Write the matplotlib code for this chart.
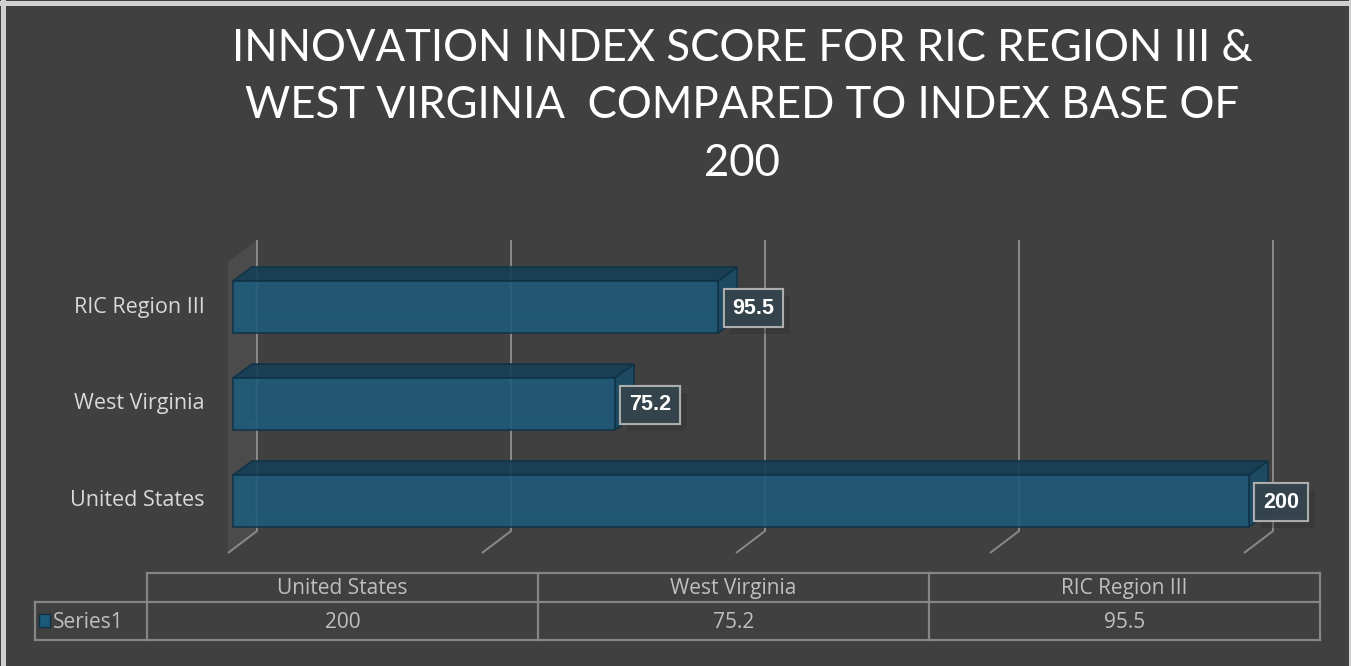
import numpy as np
import matplotlib.pyplot as plt
from matplotlib.patches import Polygon, Rectangle
import matplotlib.patheffects as pe

# data
categories = ['United States', 'West Virginia', 'RIC Region III']
values = [200, 75.2, 95.5]
series_name = 'Series1'
grid_ticks = [0, 50, 100, 150, 200]
title = 'INNOVATION INDEX SCORE FOR RIC REGION III &\nWEST VIRGINIA  COMPARED TO INDEX BASE OF\n200'

W, H = 1351, 666
BG = '#404040'
TXT = '#d9d9d9'
GRID = '#8a8a8a'
FRONT = '#1d5b7a'
TOP = '#173f55'
SIDE = '#1a4a64'
EDGE = '#0f3247'
LABEL_FONT = ['Open Sans', 'DejaVu Sans']

plt.rcParams['font.family'] = ['Lato', 'DejaVu Sans']

fig = plt.figure(figsize=(W / 100, H / 100), dpi=100)
fig.patch.set_facecolor(BG)

# axes covering whole figure; x=0 at px 233, x=200 at px 1249; y=0 (first bar) at px 501
px_x = (1249 - 233) / 200.0
px_y = 97.0
ax = fig.add_axes([0, 0, 1, 1])
ax.set_xlim(-233 / px_x, (W - 233) / px_x)
ax.set_ylim(-(H - 501) / px_y, 501 / px_y)
ax.axis('off')
ax.patch.set_alpha(0)

# 3d geometry
bar_h = 0.268
bdx, bdy = 19 / px_x, 14 / px_y
gback = 24 / px_x
gfront = 5 / px_x
floor_back = -30 / px_y
floor_front = -52 / px_y
grid_top = (501 - 240) / px_y
wall_dy = floor_front - floor_back

# left wall
wall = Polygon([(-gfront, floor_front), (gback, floor_back), (gback, grid_top),
                (-gfront, grid_top + wall_dy)], closed=True,
               facecolor='#4b4b4b', edgecolor='none', zorder=1)
ax.add_patch(wall)

# gridlines
for v in grid_ticks:
    ax.plot([v + gback, v + gback, v - gfront], [grid_top, floor_back, floor_front],
            color=GRID, lw=1.4, zorder=2, solid_capstyle='butt')

# bars
for i, v in enumerate(values):
    c = i
    y0, y1 = c - bar_h, c + bar_h
    # hidden edges
    ax.plot([bdx, v + bdx], [y0 + bdy, y0 + bdy], color=EDGE, lw=0.8, alpha=0.5, zorder=3)
    ax.plot([bdx, bdx], [y0 + bdy, y1 + bdy], color=EDGE, lw=0.8, alpha=0.5, zorder=3)
    ax.plot([0, bdx], [y0, y0 + bdy], color=EDGE, lw=0.8, alpha=0.5, zorder=3)
    top = Polygon([(0, y1), (v, y1), (v + bdx, y1 + bdy), (bdx, y1 + bdy)], closed=True,
                  facecolor=TOP, edgecolor=EDGE, lw=1.2, alpha=0.92, zorder=4)
    side = Polygon([(v, y0), (v + bdx, y0 + bdy), (v + bdx, y1 + bdy), (v, y1)], closed=True,
                   facecolor=SIDE, edgecolor=EDGE, lw=1.2, alpha=0.92, zorder=4)
    front = Rectangle((0, y0), v, 2 * bar_h, facecolor=FRONT, edgecolor=EDGE, lw=1.2,
                      alpha=0.88, zorder=5)
    ax.add_patch(top)
    ax.add_patch(side)
    ax.add_patch(front)
    t = ax.annotate(f'{v:g}', (v, c), xytext=(14, -1), textcoords='offset pixels',
                    ha='left', va='center', color='white', fontsize=15.5, fontweight='bold',
                    family=['Liberation Sans', 'DejaVu Sans'], zorder=7,
                    bbox=dict(boxstyle='square,pad=0.4', facecolor='#34444d',
                              edgecolor='#b0b0b0', lw=1.5, alpha=0.95))
    t.get_bbox_patch().set_path_effects([pe.withSimplePatchShadow(offset=(5, -5), shadow_rgbFace='#2c2c2c', alpha=0.35),
                                         pe.Normal()])
    ax.text(-28 / px_x, c, categories[i], ha='right', va='center', color=TXT, fontsize=15.5,
            family=LABEL_FONT)

# title
fig.text(742 / W, 1 - 106 / H, title, ha='center', va='center', color='white',
         fontsize=31.5, linespacing=1.5)

# data table
tx0, tx1, ty0, ty1 = 35, 1320, 573, 640
tax = fig.add_axes([tx0 / W, 1 - ty1 / H, (tx1 - tx0) / W, (ty1 - ty0) / H])
tax.set_xlim(0, tx1 - tx0)
tax.set_ylim(ty1 - ty0, 0)
tax.axis('off')
tax.patch.set_alpha(0)
lab_w = 112
col_w = (tx1 - tx0 - lab_w) / len(categories)
hdr_h = 29
tot_h = ty1 - ty0
lc = dict(color='#858585', lw=1.6, clip_on=False)
tax.plot([lab_w, tx1 - tx0], [0, 0], **lc)
tax.plot([0, tx1 - tx0], [hdr_h, hdr_h], **lc)
tax.plot([0, tx1 - tx0], [tot_h, tot_h], **lc)
tax.plot([0, 0], [hdr_h, tot_h], **lc)
for k in range(len(categories) + 1):
    xk = lab_w + k * col_w
    tax.plot([xk, xk], [0, tot_h], **lc)
for k, (cat, v) in enumerate(zip(categories, values)):
    xc = lab_w + (k + 0.5) * col_w
    tax.text(xc, hdr_h / 2 + 1, cat, ha='center', va='center', color='#bfbfbf', fontsize=15,
             family=LABEL_FONT)
    tax.text(xc, (hdr_h + tot_h) / 2 + 1, f'{v:g}', ha='center', va='center', color='#bfbfbf',
             fontsize=15, family=LABEL_FONT)
tax.add_patch(Rectangle((4, hdr_h + 12), 11, 13, facecolor=FRONT, edgecolor=EDGE, lw=1, clip_on=False))
tax.text(18, (hdr_h + tot_h) / 2 + 1, series_name, ha='left', va='center', color='#bfbfbf',
         fontsize=15, family=LABEL_FONT)

# outer frame (top, left, right edges visible)
fc = dict(transform=fig.transFigure, color='#d0d0d0', clip_on=False)
fig.lines.append(plt.Line2D([0, 1], [1 - 2.5 / H, 1 - 2.5 / H], lw=3.6, **fc))
fig.lines.append(plt.Line2D([2.5 / W, 2.5 / W], [0, 1], lw=3.6, **fc))
fig.lines.append(plt.Line2D([1 - 1.5 / W, 1 - 1.5 / W], [0, 1], lw=1.5, **fc))

fig.savefig('out.png', dpi=100, facecolor=BG)
